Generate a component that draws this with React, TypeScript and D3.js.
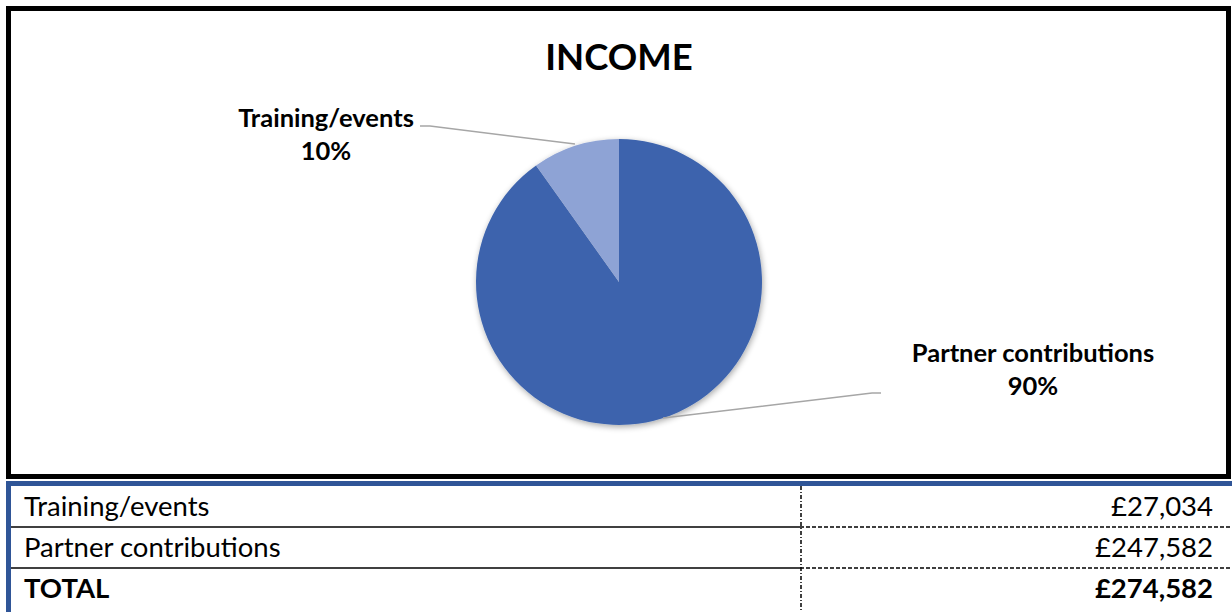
import React from "react";
import * as d3 from "d3";

const categories = ["Training/events", "Partner contributions"];
const values = [27034, 247582];
const valueLabels = ["£27,034", "£247,582"];
const totalLabel = "TOTAL";
const totalValue = "£274,582";
const colors = ["#8EA3D5", "#3D64AD"];
const title = "INCOME";

const W = 1232;
const H = 612;
const FONT = "Lato, 'Liberation Sans', sans-serif";

export default function App() {
  const cx = 619;
  const cy = 282;
  const r = 143;
  // Excel draws partner contributions first clockwise from 12 o'clock
  const order = [1, 0];
  const pie = d3
    .pie<number>()
    .sort(null)
    .value((i) => values[i]);
  const arcs = pie(order);
  const arcGen = d3.arc<d3.PieArcDatum<number>>().innerRadius(0).outerRadius(r);
  const total = d3.sum(values);
  const pct = (v: number) => d3.format(".0%")(v / total);

  const rowY = d3.scaleBand<number>().domain([0, 1, 2]).range([486, 609]);

  const labelPos: Record<number, { x: number; y: number; line: [number, number][] }> = {
    0: { x: 326, y: 127, line: [[420, 126], [430, 126], [575, 144]] },
    1: { x: 1033, y: 362, line: [[881, 393], [872, 393], [663, 418]] },
  };

  return (
    <svg
      width={W}
      height={H}
      style={{ position: "absolute", left: 0, top: 0, background: "#fff" }}
      fontFamily={FONT}
    >
      <defs>
        <filter id="sh" x="-20%" y="-20%" width="140%" height="140%">
          <feGaussianBlur in="SourceAlpha" stdDeviation="3" />
          <feOffset dx="1" dy="2" result="b" />
          <feComponentTransfer>
            <feFuncA type="linear" slope="0.35" />
          </feComponentTransfer>
          <feMerge>
            <feMergeNode />
            <feMergeNode in="SourceGraphic" />
          </feMerge>
        </filter>
      </defs>
      <rect x={0} y={0} width={W} height={H} fill="#fff" />
      {/* chart frame */}
      <rect x={8.5} y={8.5} width={1220} height={468} fill="none" stroke="#000" strokeWidth={5} />
      <text x={cx} y={70} textAnchor="middle" fontSize={36.5} fontWeight="bold" fill="#000">
        {title}
      </text>
      <g transform={`translate(${cx},${cy})`} filter="url(#sh)">
        {arcs.map((a) => (
          <path key={a.data} d={arcGen(a) || ""} fill={colors[a.data]} />
        ))}
      </g>
      {order.map((i) => {
        const p = labelPos[i];
        return (
          <g key={i}>
            <path
              d={d3.line()(p.line) || ""}
              fill="none"
              stroke="#A6A6A6"
              strokeWidth={1.5}
            />
            <text x={p.x} y={p.y} textAnchor="middle" fontSize={25.5} fontWeight="bold" fill="#000">
              <tspan x={p.x}>{categories[i]}</tspan>
              <tspan x={p.x} dy={33}>{pct(values[i])}</tspan>
            </text>
          </g>
        );
      })}
      {/* table */}
      <rect x={6} y={481} width={1226} height={5} fill="#2F5597" />
      <rect x={6} y={481} width={5} height={131} fill="#2F5597" />
      {[0, 1].map((i) => {
        const y = (rowY(i) as number) + rowY.bandwidth();
        return (
          <g key={"l" + i}>
            <line x1={11} x2={800} y1={y} y2={y} stroke="#000" strokeWidth={1.5} />
            <line x1={800} x2={1232} y1={y} y2={y} stroke="#000" strokeWidth={1.5} strokeDasharray="4,2" />
          </g>
        );
      })}
      <line x1={801} x2={801} y1={486} y2={612} stroke="#000" strokeWidth={1.5} strokeDasharray="4,2,1,2" />
      {[0, 1, 2].map((i) => {
        const y = (rowY(i) as number) + rowY.bandwidth() / 2 + 9.5;
        const bold = i === 2;
        return (
          <g key={"r" + i} fontSize={27.5} fontWeight={bold ? "bold" : "normal"} fill="#000">
            <text x={24} y={y}>{bold ? totalLabel : categories[i]}</text>
            <text x={1213} y={y} textAnchor="end">{bold ? totalValue : valueLabels[i]}</text>
          </g>
        );
      })}
    </svg>
  );
}
